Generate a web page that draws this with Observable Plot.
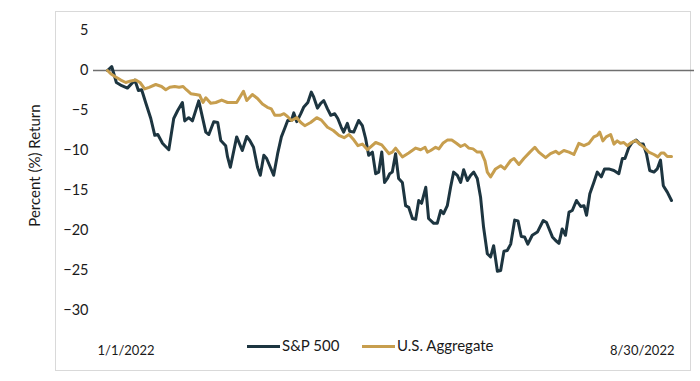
<!DOCTYPE html>
<html>
<head>
<meta charset="utf-8">
<script src="https://cdn.jsdelivr.net/npm/d3@7"></script>
<script src="https://cdn.jsdelivr.net/npm/@observablehq/plot@0.6"></script>
<style>
  body { margin: 0; background: #fff; font-family: Lato, "Open Sans", sans-serif; }
  #wrap { position: relative; width: 700px; height: 381px; overflow: hidden; }
  #frame { position: absolute; left: 55px; top: 11px; width: 634px; height: 358px; border: 1.5px solid #d9d9d9; }
  #chart { position: absolute; left: 0; top: 0; }
  .leg { position: absolute; top: 333px; font-size: 15px; color: #1a1a1a; line-height: 24px; white-space: nowrap; }
  .sw { display: inline-block; width: 33px; height: 3px; vertical-align: middle; margin-right: 2px; position: relative; top: -1px; }
</style>
</head>
<body>
<div id="wrap">
  <div id="frame"></div>
  <div id="chart"></div>
  <div class="leg" style="left:247px"><span class="sw" style="background:#1d3540"></span>S&amp;P 500</div>
  <div class="leg" style="left:362px"><span class="sw" style="background:#c79e4e"></span>U.S. Aggregate</div>
</div>
<script>
// Day offset from 1/1/2022, percent return
const spPoints = [
  [0,0],[1.8,0.5],[3.8,-1.5],[6.1,-1.9],[8.5,-2.2],[11.7,-1.2],[13.2,-2.5],[14.6,-2.4],[16.4,-4.1],[18.5,-6],
  [20.2,-8.1],[21.5,-8],[23.5,-9.1],[24.5,-9.4],[26.2,-9.9],[28.3,-6],[30.0,-5],[32.0,-4],[33.0,-6.3],[34.7,-5.9],
  [36.3,-6.3],[39.0,-3.8],[42.0,-7.7],[43.3,-8],[45.4,-6.4],[47.1,-6.5],[48.4,-8.75],[50.5,-9.4],[51.3,-10.8],[52.5,-12.1],
  [55.2,-8.3],[57.6,-10],[59.5,-8.25],[60.8,-8.75],[62.4,-9.6],[64.1,-12.1],[65.3,-13.1],[66.8,-10.6],[68.0,-11],[69.8,-12.25],
  [71.0,-13.1],[72.7,-10.4],[74.3,-8.3],[75.7,-7.25],[77.0,-6.25],[78.6,-6.25],[79.6,-5.3],[80.9,-6.4],[82.6,-5.4],[83.8,-4.6],
  [85.6,-4],[87.1,-2.7],[88.1,-3.3],[89.7,-4.7],[91.1,-4.1],[92.4,-3.75],[94.0,-4.8],[95.4,-5.6],[97.1,-5.4],[98.4,-6],
  [99.9,-7.1],[100.9,-7.7],[102.5,-6.6],[103.5,-7.6],[105.2,-7.7],[107.3,-6.25],[108.9,-6.9],[110.3,-8.5],[111.6,-10.6],[113.2,-10.2],
  [114.6,-12.9],[115.9,-12.7],[117.2,-10.2],[118.4,-14],[119.6,-13.5],[120.6,-12.9],[121.7,-12.7],[123.1,-10.4],[124.4,-13.5],[126.0,-14],
  [127.4,-16.9],[128.7,-17.1],[130.3,-18.5],[131.7,-18.6],[133.0,-16.25],[134.2,-16.6],[136.0,-14.6],[137.2,-18.5],[139.4,-19.1],[140.9,-19.1],
  [142.4,-17.5],[143.6,-17.9],[145.2,-16.9],[146.6,-14.6],[147.9,-12.7],[149.5,-13.1],[150.9,-14],[152.2,-12.4],[153.8,-13.75],[155.2,-13.1],
  [156.5,-12.7],[158.0,-13.5],[159.4,-15.8],[160.7,-19.6],[162.3,-22.9],[163.7,-23.3],[165.0,-21.9],[166.6,-25.1],[168.0,-25],[169.4,-22.6],
  [170.8,-22.5],[172.3,-21.7],[174.0,-18.7],[175.4,-18.8],[176.8,-20.75],[178.2,-20.8],[179.6,-21.7],[181.5,-20.6],[183.7,-20.2],[186.2,-18.75],
  [187.6,-19],[190.1,-20.8],[191.5,-21.25],[192.9,-21.6],[194.3,-19.8],[195.7,-20.6],[197.2,-17.7],[198.6,-17.5],[200.4,-16.25],[202.2,-17],
  [203.6,-16.9],[204.7,-18.1],[206.1,-15.4],[207.8,-14],[209.3,-12.7],[211.0,-13.3],[212.4,-12.3],[214.2,-12.3],[216.4,-12.5],[218.5,-12.9],
  [220.0,-11],[221.1,-11],[222.8,-9.6],[224.2,-9],[225.9,-8.7],[227.5,-9.2],[228.9,-9.2],[230.3,-10.4],[231.7,-12.5],[233.5,-12.7],
  [234.9,-12.3],[236.3,-11.2],[237.5,-14.4],[239.2,-15.2],[241,-16.25]
];
const aggPoints = [
  [0,0],[1.4,-0.4],[3.5,-0.8],[5.7,-1.2],[7.8,-1.5],[10.0,-1.3],[12.1,-1.2],[13.9,-1.5],[15.9,-2.3],[17.8,-2.1],
  [20.6,-1.75],[23.1,-2],[24.9,-2.4],[26.6,-2.1],[28.7,-2],[30.6,-2.1],[32.3,-2],[33.7,-2.4],[35.6,-2.9],[37.7,-3],
  [39.4,-3.1],[40.8,-4],[42.0,-3.4],[44.1,-4.1],[46.3,-4],[48.8,-3.7],[51.3,-4],[53.4,-4],[55.2,-4],[58.1,-2.6],
  [59.5,-3.75],[61.9,-3],[64.1,-3.5],[66.2,-4.2],[68.3,-4.6],[70.0,-4.8],[71.5,-5.6],[73.7,-5.6],[75.4,-5.4],[76.9,-5.75],
  [78.6,-6.25],[80.9,-5.9],[82.6,-6.5],[84.3,-6.9],[86.8,-6.5],[89.4,-5.9],[91.4,-6.2],[94.0,-7.1],[96.5,-7.5],[98.9,-8.1],
  [101.1,-8.4],[103.2,-8],[105.3,-8.7],[107.0,-9.4],[108.9,-9.2],[111.1,-9.9],[114.6,-9],[117.2,-9.3],[120.3,-10.4],[121.7,-10.2],
  [123.1,-9.7],[126.0,-10.8],[128.7,-10.3],[131.7,-9.7],[133.8,-9.9],[135.7,-9.6],[136.7,-10.2],[138.1,-10],[140.2,-9.6],[141.6,-9.8],
  [143.3,-9.1],[145.2,-8.7],[147.1,-8.7],[149.1,-9.1],[150.9,-9.5],[152.7,-9.25],[154.4,-9.7],[156.2,-9.8],[158.0,-10.2],[159.7,-10.2],
  [161.3,-11.3],[162.3,-12.7],[163.7,-13.3],[165.8,-12.3],[168.0,-11.9],[169.7,-12.3],[172.3,-11.25],[173.7,-11],[175.8,-11.75],[177.9,-11],
  [180.5,-10.2],[182.6,-9.6],[184.3,-10.2],[187.2,-10.9],[189.3,-10.4],[191.5,-10.1],[192.9,-10.4],[195.0,-10],[197.2,-10.2],[199.3,-10.5],
  [201.4,-9.1],[203.6,-9.4],[205.7,-9.1],[207.8,-8.3],[209.3,-8.1],[210.3,-7.7],[211.7,-8.8],[213.1,-8.3],[215.0,-8],[216.4,-9.2],
  [217.8,-8.8],[219.2,-9.1],[220.6,-9],[222.1,-9.4],[223.9,-9],[225.6,-8.75],[227.5,-9.2],[229.2,-9.6],[231.3,-10.2],[233.5,-10.5],
  [235.2,-10.8],[236.6,-10.3],[237.7,-10.3],[239.2,-10.75],[241,-10.75]
];
const seriesNames = ["S&P 500", "U.S. Aggregate"];
const seriesColors = ["#1d3540", "#c79e4e"];
const yTicks = [5, 0, -5, -10, -15, -20, -25, -30];
const xLabels = ["1/1/2022", "8/30/2022"];
const startDate = Date.UTC(2022, 0, 1);
const endDate = Date.UTC(2022, 7, 30);

const toDate = d => new Date(startDate + d * 864e5);
const rows = [
  ...spPoints.map(([d, v]) => ({date: toDate(d), value: v, series: seriesNames[0]})),
  ...aggPoints.map(([d, v]) => ({date: toDate(d), value: v, series: seriesNames[1]}))
];

const chart = Plot.plot({
  width: 700,
  height: 381,
  marginLeft: 107,
  marginRight: 29,
  marginTop: 30,
  marginBottom: 71,
  style: {fontFamily: "Lato, 'Open Sans', sans-serif", color: "#1a1a1a", background: "transparent"},
  x: {type: "utc", domain: [new Date(startDate), new Date(endDate)], axis: null},
  y: {domain: [-30, 5], axis: null},
  color: {domain: seriesNames, range: seriesColors},
  marks: [
    Plot.axisY({ticks: yTicks, tickSize: 0, tickPadding: 19, fontSize: 14.5, label: null}),
    Plot.text(["Percent (%) Return"], {frameAnchor: "left", textAnchor: "middle", dx: -72, dy: -5, rotate: -90, fontSize: 15, fill: "#1a1a1a"}),
    Plot.ruleY([0], {stroke: "#6f6f6f", strokeWidth: 1.5, insetLeft: -14, insetRight: -23}),
    Plot.line(rows, {x: "date", y: "value", z: "series", stroke: "series", strokeWidth: 3, strokeLinejoin: "round", curve: "linear"}),
    Plot.text([xLabels[0]], {x: () => new Date(startDate), frameAnchor: "bottom", dy: 44, dx: -10, textAnchor: "start", fontSize: 13, fill: "#1a1a1a"}),
    Plot.text([xLabels[1]], {x: () => new Date(endDate), frameAnchor: "bottom", dy: 44, dx: 3, textAnchor: "end", fontSize: 13, fill: "#1a1a1a"})
  ]
});
document.getElementById("chart").appendChild(chart);
</script>
</body>
</html>
